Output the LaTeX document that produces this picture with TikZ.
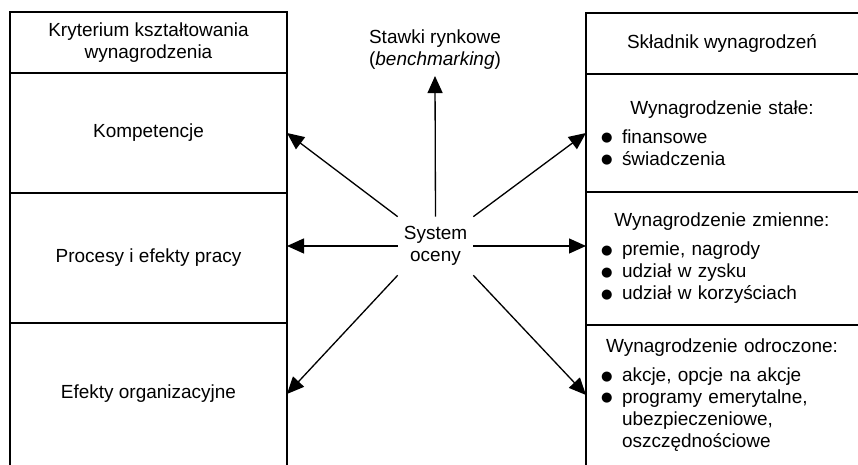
\documentclass[tikz,border=0pt]{standalone}
\usepackage{fontspec}
\setmainfont{Liberation Sans}
\newfontfamily\symfont{DejaVu Sans}
\usetikzlibrary{positioning,arrows.meta}

\newcommand{\kropka}{\raisebox{0.8pt}{\symfont\fontsize{7.5}{7.5}\selectfont ●}}
\newcommand{\pkt}{\makebox[0.42cm][l]{\kropka}}
\newcommand{\dalej}{\hspace*{0.42cm}}
\newcommand{\naglowek}[1]{{\centering #1\par}\vspace{4pt}}

\begin{document}
\begin{tikzpicture}[
  >={Triangle[length=0.34cm,width=0.3cm]},
  every node/.style={font=\fontsize{10.8}{12.5}\selectfont},
  kom/.style={minimum width=5.54cm,inner sep=2pt,outer sep=0pt,align=center},
  skl/.style={minimum width=5.44cm,inner xsep=0.3cm,inner ysep=2pt,outer sep=0pt,text width=4.84cm,align=left},
  linia/.style={line width=0.9pt},
  strz/.style={->,line width=0.75pt}]
\useasboundingbox (0,0) rectangle (17.16,9.3);

% lewa kolumna
\node[kom,minimum height=1.22cm] (glowa) at (2.97,8.45) {Kryterium kształtowania\\wynagrodzenia};
\node[kom,minimum height=2.4cm,below=0pt of glowa] (komp) {Kompetencje};
\node[kom,minimum height=2.6cm,below=0pt of komp] (proc) {Procesy i efekty pracy};
\node[kom,minimum height=2.84cm,below=0pt of proc] (efekt) {Efekty organizacyjne};

% prawa kolumna
\node[kom,minimum width=5.44cm,minimum height=1.22cm] (skladnik) at (14.44,8.43) {Składnik wynagrodzeń};
\node[skl,minimum height=2.36cm,below=0pt of skladnik] (stale) {\naglowek{Wynagrodzenie stałe:}
  \pkt finansowe\\
  \pkt świadczenia};
\node[skl,minimum height=2.66cm,below=0pt of stale] (zmienne) {\naglowek{Wynagrodzenie zmienne:}
  \pkt premie, nagrody\\
  \pkt udział w zysku\\
  \pkt udział w korzyściach};
\node[skl,minimum height=2.8cm,below=0pt of zmienne] (odroczone) {\naglowek{Wynagrodzenie odroczone:}
  \pkt akcje, opcje na akcje\\
  \pkt programy emerytalne,\\
  \dalej ubezpieczeniowe,\\
  \dalej oszczędnościowe};

% ramki (otwarte od dołu, prawa także z prawej)
\draw[linia] (efekt.south west) -- (glowa.north west) -- (glowa.north east) -- (efekt.south east);
\foreach \k in {glowa,komp,proc}
  \draw[linia] (\k.south west) -- (\k.south east);
\draw[linia] (odroczone.south west) -- (skladnik.north west) -- (skladnik.north east);
\foreach \k in {skladnik,stale,zmienne}
  \draw[linia] (\k.south west) -- (\k.south east);

% srodek
\node[minimum width=1.5cm,minimum height=1.16cm,inner sep=0pt,align=center] (ocena) at (8.71,4.38) {System\\oceny};
\node[align=center] (stawki) at (8.7,8.3) {Stawki rynkowe\\(\textit{benchmarking})};

\draw[strz] (ocena.north) -- (stawki.south);
\draw[strz] (ocena.north west) -- (komp.east);
\draw[strz] (ocena.west) -- (ocena.west -| proc.east);
\draw[strz] (ocena.south west) -- (efekt.east);
\draw[strz] (ocena.north east) -- (stale.west);
\draw[strz] (ocena.east) -- (ocena.east -| zmienne.west);
\draw[strz] (ocena.south east) -- (odroczone.west);
\end{tikzpicture}
\end{document}
